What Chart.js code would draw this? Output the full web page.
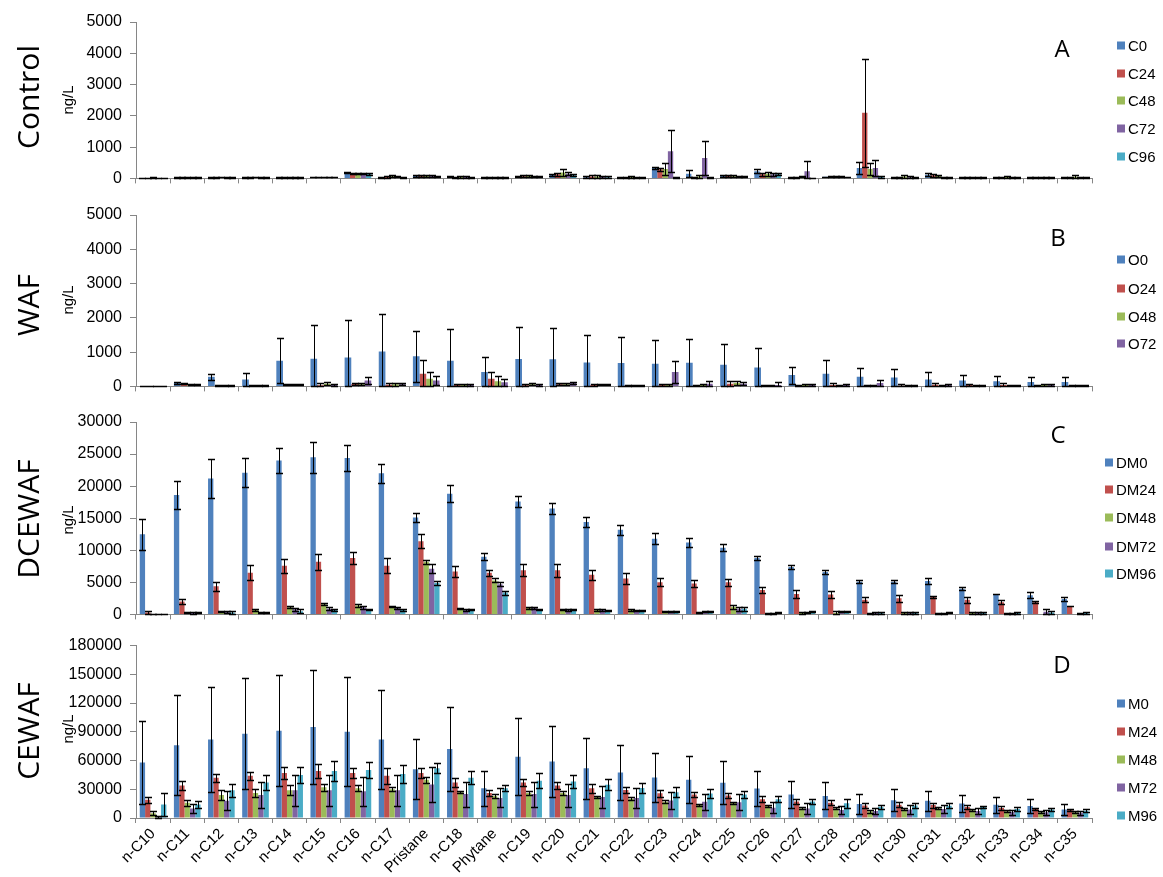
<!DOCTYPE html>
<html><head><meta charset="utf-8">
<script src="https://cdn.jsdelivr.net/npm/chart.js@4.4.1/dist/chart.umd.min.js"></script>
<style>
body{margin:0;background:#fff;}
#wrap{position:relative;width:1163px;height:877px;overflow:hidden;background:#fff;font-family:"Liberation Sans",Arial,sans-serif;color:#000;}
canvas{position:absolute;left:0;}
.ptitle{position:absolute;transform:translate(-50%,-50%) rotate(-90deg);white-space:nowrap;font-family:"Open Sans",sans-serif;font-size:30px;line-height:1;}
.unit{position:absolute;transform:translate(-50%,-50%) rotate(-90deg);white-space:nowrap;font-size:15px;line-height:1;}
.letter{position:absolute;transform:translate(-50%,-50%);font-family:"Open Sans",sans-serif;font-size:24px;line-height:1;}
.leg{position:absolute;font-size:15px;line-height:1;white-space:nowrap;transform:translateY(-50%);}
.leg span{display:inline-block;width:8px;height:8px;margin-right:3px;vertical-align:1px;}
</style></head>
<body><div id="wrap"></div>
<script>
const categories=["n-C10","n-C11","n-C12","n-C13","n-C14","n-C15","n-C16","n-C17","Pristane","n-C18","Phytane","n-C19","n-C20","n-C21","n-C22","n-C23","n-C24","n-C25","n-C26","n-C27","n-C28","n-C29","n-C30","n-C31","n-C32","n-C33","n-C34","n-C35"];
const colors=["#4F81BD","#C0504D","#9BBB59","#8064A2","#4BACC6"];

// Panel A - Control
const C0   =[10,20,30,30,30,40,180,40,80,50,30,70,110,40,40,330,150,80,230,20,50,330,40,120,30,40,30,30];
const C0e  =[10,10,10,10,10,10,20,20,20,20,10,20,30,30,20,40,110,20,60,10,10,200,20,40,10,20,10,20];
const C24  =[10,20,30,30,30,40,150,50,90,40,30,70,130,60,30,290,30,80,130,30,50,2100,30,100,30,30,40,30];
const C24e =[10,10,10,10,10,10,20,30,30,20,10,30,40,40,20,40,20,30,40,20,20,1720,30,40,10,30,20,20];
const C48  =[20,30,40,40,30,40,150,70,90,50,40,80,190,60,50,300,60,70,150,60,50,300,60,80,30,50,40,50];
const C48e =[20,20,10,10,10,10,20,40,30,30,20,30,100,50,30,180,50,30,60,20,20,180,50,40,20,30,20,70];
const C72  =[10,20,30,30,30,40,150,60,80,50,30,60,150,50,40,870,650,70,130,230,50,330,40,30,30,30,30,30];
const C72e =[10,10,10,10,10,10,20,30,30,30,10,30,40,40,20,670,550,20,40,340,20,250,30,20,10,20,20,30];
const C96  =[10,20,30,30,30,40,140,40,70,40,30,50,100,40,30,20,30,60,130,10,40,50,30,20,20,30,30,30];
const C96e =[10,10,10,10,10,10,20,20,20,20,10,20,30,30,20,10,20,20,30,10,10,30,20,10,10,20,20,20];

// Panel B - WAF
const O0   =[15,100,280,200,750,810,840,1020,880,750,420,800,790,700,680,660,690,630,550,330,370,280,260,200,170,150,130,130];
const O0e  =[10,20,90,200,660,990,1100,1100,750,930,440,940,900,800,760,690,680,620,580,250,400,270,250,220,170,160,140,140];
const O24  =[10,90,30,20,50,30,70,50,370,40,220,30,60,50,30,50,30,80,10,20,40,30,20,50,40,40,20,30];
const O24e =[10,20,10,10,20,80,40,60,400,20,200,40,30,30,20,30,20,80,20,30,50,20,40,50,20,50,20,20];
const O48  =[10,50,30,30,50,80,60,60,220,40,150,60,60,50,20,50,40,100,20,40,30,30,20,20,20,20,40,30];
const O48e =[10,20,10,10,20,40,30,40,200,20,150,30,30,20,10,30,30,50,10,20,20,20,20,20,10,20,20,20];
const O72  =[10,50,30,30,50,50,170,60,170,40,120,50,100,50,20,420,80,80,40,40,40,100,20,40,20,20,40,30];
const O72e =[10,20,10,10,20,30,100,30,130,20,100,30,20,20,10,320,80,40,80,20,30,80,20,40,10,20,20,20];

// Panel C - DCEWAF
const DM0  =[12500,18600,21200,22100,24000,24500,24400,22000,15100,18800,9000,17600,16500,14400,13200,11800,11200,10400,8800,7400,6600,5100,5100,5200,4000,3200,3000,2400];
const DM0e =[2400,2200,3000,2300,2000,2400,2000,1500,750,1300,500,900,900,800,800,900,650,550,300,250,250,200,250,450,250,50,450,250];
const DM24 =[300,2000,4400,6500,7600,8200,8800,7600,11400,6700,6500,6900,6900,6200,5600,5000,4800,5000,3800,3200,3100,2300,2500,2700,2300,1900,1900,1300];
const DM24e=[200,400,700,1200,1100,1200,1000,1200,1100,900,500,900,1000,800,800,600,500,500,450,600,550,400,500,200,450,300,200,50];
const DM48 =[50,300,500,700,1100,1600,1400,1200,8200,900,5300,1000,800,700,700,500,300,1200,100,200,200,100,200,100,200,100,0,0];
const DM48e=[50,100,100,100,150,100,200,100,300,100,300,100,100,100,100,100,100,300,100,100,300,100,100,100,100,100,0,0];
const DM72 =[50,200,400,300,800,900,1100,1000,7100,700,4700,1000,700,700,600,500,400,900,100,300,400,200,200,100,200,100,400,100];
const DM72e=[50,100,200,100,200,200,200,100,700,100,300,100,100,100,100,100,100,300,100,100,100,100,100,100,100,100,500,100];
const DM96 =[50,300,300,300,500,700,800,700,4900,800,3400,800,800,600,600,500,400,900,300,400,400,200,200,300,200,200,300,200];
const DM96e=[50,100,300,100,300,200,100,100,250,100,300,100,100,100,100,100,100,300,100,100,100,100,100,150,100,100,300,100];

// Panel D - CEWAF
const M0   =[58000,76000,82000,88000,91000,95000,90000,82000,51000,72000,31000,64000,59000,52000,47600,42400,40000,36900,30700,24500,23100,14500,18600,17900,15200,13800,12400,9000];
const M0e  =[43000,52000,55000,58000,58000,60000,57000,52000,31000,44000,18000,40000,37000,32000,29000,25700,24600,22100,18000,14100,14000,10200,11600,10700,9000,8600,7500,5800];
const M24  =[19000,34000,42000,44000,47000,49000,47000,44000,47000,37000,26000,37000,34000,31000,29300,25900,24500,23500,19700,17200,15900,13100,13800,13500,11400,10400,9300,8300];
const M24e =[3000,5000,4000,4000,6000,7000,5000,8000,5000,5000,3000,4000,4000,4700,3500,3500,2800,2400,2800,2800,2400,2900,2400,2600,2000,1700,1400,1400];
const M48  =[5000,16000,24000,26000,29000,32000,31000,30000,40000,27000,23000,26000,26000,22000,20000,17000,14000,16000,13000,10000,10000,7000,9000,10000,8000,7000,6000,6000];
const M48e =[2000,3000,5000,4000,5000,4000,3000,2000,3000,1000,2000,2000,2000,1400,1500,1500,1000,1000,1000,1000,1000,1500,1000,1000,1000,1000,1000,1000];
const M72  =[1000,10000,18000,24000,29000,29000,28000,29000,35000,25000,21000,25000,24000,22000,21000,18300,16900,16500,10700,10000,8300,7300,9000,9300,7200,6200,5900,5500];
const M72e =[1000,5000,10000,14000,16000,16000,15000,16000,18000,13000,10000,13000,12000,11700,10500,9300,8600,8100,6000,6000,4100,3300,4500,4500,3500,2600,2800,1900];
const M96  =[14000,14000,29000,37000,45000,49000,50000,46000,52000,42000,31000,39000,38000,34800,31400,26900,25500,24500,19700,17200,15500,11700,13100,12800,11400,9300,9000,7600];
const M96e =[12000,4000,7000,8000,8000,10000,8000,9000,5000,7000,3000,8000,7000,6000,5000,5200,4500,3800,3500,3000,4600,2100,2200,2800,1400,2100,1500,1400];

const yTicksA=[0,1000,2000,3000,4000,5000];
const yTicksB=[0,1000,2000,3000,4000,5000];
const yTicksC=[0,5000,10000,15000,20000,25000,30000];
const yTicksD=[0,30000,60000,90000,120000,150000,180000];

const panels=[
 {title:"Control",letter:"A",top:0,height:196,padTop:22,xH:14,ticks:yTicksA,
  names:["C0","C24","C48","C72","C96"],vals:[C0,C24,C48,C72,C96],errs:[C0e,C24e,C48e,C72e,C96e],
  titleY:97,unitY:100,letterPos:[1062,48],legY:[45,73,100,128,156],legX:1117},
 {title:"WAF",letter:"B",top:195,height:209,padTop:20,xH:14,ticks:yTicksB,
  names:["O0","O24","O48","O72"],vals:[O0,O24,O48,O72],errs:[O0e,O24e,O48e,O72e],
  titleY:305,unitY:300,letterPos:[1058,237],legY:[259,288,316,343],legX:1117},
 {title:"DCEWAF",letter:"C",top:402,height:230,padTop:20,xH:14,ticks:yTicksC,
  names:["DM0","DM24","DM48","DM72","DM96"],vals:[DM0,DM24,DM48,DM72,DM96],errs:[DM0e,DM24e,DM48e,DM72e,DM96e],
  titleY:519,unitY:520,letterPos:[1058,434],legY:[462,489,517,546,573],legX:1105},
 {title:"CEWAF",letter:"D",top:628,height:249,padTop:16,xH:59,ticks:yTicksD,last:true,
  names:["M0","M24","M48","M72","M96"],vals:[M0,M24,M48,M72,M96],errs:[M0e,M24e,M48e,M72e,M96e],
  titleY:731,unitY:729,letterPos:[1062,664],legY:[703,731,759,787,815],legX:1117}
];

const errorBars={
 id:'errorBars',
 afterDatasetsDraw(chart){
  const ctx=chart.ctx,ys=chart.scales.y,y0=ys.getPixelForValue(0);
  ctx.save();ctx.strokeStyle='#000';
  chart.data.datasets.forEach((ds,i)=>{
   const meta=chart.getDatasetMeta(i);
   meta.data.forEach((bar,j)=>{
    const v=ds.data[j],e=ds.errors[j];
    if(!e)return;
    const top=Math.round(ys.getPixelForValue(v+e))+0.5;
    const bot=Math.round(Math.min(y0,ys.getPixelForValue(Math.max(v-e,0))))+0.5;
    const x=Math.round(bar.x)+0.5;
    ctx.lineWidth=1;ctx.beginPath();ctx.moveTo(x,top);ctx.lineTo(x,bot);ctx.stroke();
    ctx.lineWidth=1.6;ctx.beginPath();
    ctx.moveTo(x-3.5,top);ctx.lineTo(x+3.5,top);
    ctx.moveTo(x-3.5,bot);ctx.lineTo(x+3.5,bot);ctx.stroke();
   });
  });
  ctx.restore();
 }
};

const wrap=document.getElementById('wrap');
const FONT='"Liberation Sans", Arial, sans-serif';
panels.forEach(p=>{
 const cv=document.createElement('canvas');
 cv.width=1163;cv.height=p.height;cv.style.top=p.top+'px';
 wrap.appendChild(cv);
 const tmin=p.ticks[0],tmax=p.ticks[p.ticks.length-1],step=p.ticks[1]-p.ticks[0];
 new Chart(cv,{
  type:'bar',
  data:{labels:categories,datasets:p.vals.map((v,i)=>({label:p.names[i],data:v,errors:p.errs[i],backgroundColor:colors[i],borderWidth:0,categoryPercentage:0.78,barPercentage:1}))},
  options:{
   responsive:false,animation:false,devicePixelRatio:1,
   layout:{padding:{left:0,right:71,top:p.padTop,bottom:0}},
   plugins:{legend:{display:false},tooltip:{enabled:false}},
   scales:{
    x:{afterFit(s){s.height=p.xH;},
       grid:{offset:true,drawOnChartArea:false,drawTicks:true,tickLength:5,color:'#868686'},
       border:{color:'#868686',width:1},
       ticks:{display:!!p.last,autoSkip:false,minRotation:45,maxRotation:45,color:'#000',padding:2,font:{family:FONT,size:15}}},
    y:{min:tmin,max:tmax,afterFit(s){s.width=136;},
       grid:{drawOnChartArea:false,drawTicks:true,tickLength:6,color:'#868686'},
       border:{color:'#868686',width:1},
       ticks:{stepSize:step,color:'#000',padding:8,font:{family:FONT,size:16},callback:v=>String(v)}}
   }
  },
  plugins:[errorBars]
 });
 const t=document.createElement('div');t.className='ptitle';t.textContent=p.title;t.style.left='28px';t.style.top=p.titleY+'px';wrap.appendChild(t);
 const u=document.createElement('div');u.className='unit';u.textContent='ng/L';u.style.left='67px';u.style.top=p.unitY+'px';wrap.appendChild(u);
 const l=document.createElement('div');l.className='letter';l.textContent=p.letter;l.style.left=p.letterPos[0]+'px';l.style.top=p.letterPos[1]+'px';wrap.appendChild(l);
 p.names.forEach((n,i)=>{
  const d=document.createElement('div');d.className='leg';d.style.left=p.legX+'px';d.style.top=p.legY[i]+'px';
  d.innerHTML='<span style="background:'+colors[i]+'"></span>'+n;wrap.appendChild(d);
 });
});
</script></body></html>
